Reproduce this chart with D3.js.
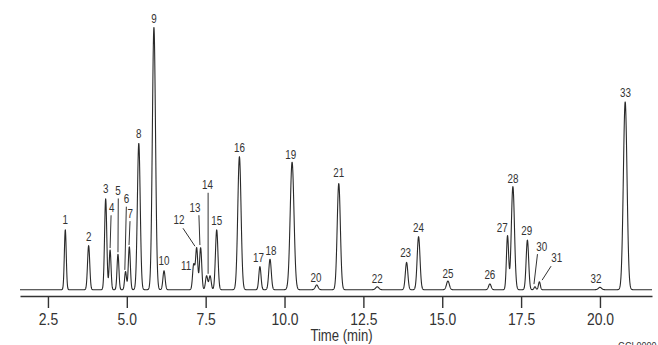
<!DOCTYPE html>
<html>
<head>
<meta charset="utf-8">
<script src="https://cdn.jsdelivr.net/npm/d3@7"></script>
<style>
  html, body { margin: 0; padding: 0; background: #fff; }
  svg { display: block; }
  .lbl { font-family: "Liberation Sans", Arial, sans-serif; fill: #333; }
</style>
</head>
<body>
<svg id="chart" width="658" height="345"></svg>
<script>
// ---- data ----
const peakLabels   = ["1","2","3","4","5","6","7","8","9","10","11","12","13","14","","15","16","17","18","19","20","21","22","23","24","25","26","27","28","29","30","31","32","33"];
const retentionMin = [3.05,3.79,4.33,4.47,4.72,4.96,5.08,5.38,5.86,6.18,7.12,7.215,7.34,7.53,7.64,7.85,8.57,9.22,9.54,10.24,11.02,11.72,12.94,13.87,14.25,15.18,16.51,17.07,17.24,17.70,17.94,18.08,20.00,20.80];
const peakHeight   = [22.8,16.8,34.6,15.1,13.5,6.9,16.4,55.8,100,7.2,9.5,15.8,16.0,5.3,5.3,22.8,50.7,8.8,11.6,48.6,1.8,40.5,1.1,10.4,20.2,3.3,2.2,20.5,39.3,18.9,1.1,3.0,0.9,71.6];
const peakWidth    = [0.030,0.035,0.035,0.030,0.030,0.030,0.032,0.045,0.050,0.035,0.035,0.035,0.035,0.035,0.035,0.040,0.052,0.035,0.040,0.060,0.045,0.050,0.050,0.040,0.045,0.045,0.040,0.035,0.050,0.040,0.030,0.030,0.050,0.058];
const tickValues   = [2.5,5.0,7.5,10.0,12.5,15.0,17.5,20.0];
const xTitle = "Time (min)";
const figureId = "GCL0000";

// ---- label layout (pixel offsets from apex) ----
const labelOffsets = {
  "1":[0,-6], "2":[0,-5], "3":[0,-5.7], "8":[0,-5], "9":[0,-4.3], "10":[0,-5.7],
  "15":[0,-5], "16":[0,-5], "17":[-1.5,-5], "18":[1,-4.3], "19":[-1.3,-3], "20":[-0.7,-3.3],
  "21":[0,-6.6], "22":[0,-3.4], "23":[-1,-5.6], "24":[0,-5], "25":[0,-3.3], "26":[0,-5],
  "27":[-5.4,-4.3], "28":[0,-3.4], "29":[-0.6,-5], "32":[-4,-4], "33":[0.4,-4.4],
  "11":[-7.6,5.2],
  // with leader lines: [dx, dy, startDx, startDy, endDx, endDy]
  "4":[1.7,-38.3, -0.7,3.5, 0,-2],
  "5":[0,-59.3, 0.3,3.5, 0,-2],
  "6":[1,-68.4, -0.2,3.5, -0.7,-1.7],
  "7":[1,-29, -0.3,3.5, -0.3,-1.7],
  "12":[-17.7,-24.7, 4,4.7, -1.7,-2],
  "13":[-5.7,-36, 4,3.5, -0.7,-2.7],
  "14":[0.8,-86.7, 0.7,3.7, 1.5,-2],
  "30":[6.7,-36, -4.2,3.3, -1,-2.7],
  "31":[17.4,-20, -5.7,4.3, 2.7,-1.7]
};
const narrow = 0.82; // horizontal condensing of the text face

// ---- scales ----
const svg = d3.select("#chart");
const x = d3.scaleLinear().domain([1.614, 21.65]).range([20, 652]);
const y = d3.scaleLinear().domain([0, 100]).range([289.7, 27.3]);

function addText(parent, px, py, str, size, anchor) {
  return parent.append("g")
    .attr("transform", `translate(${px},${py}) scale(${narrow},1)`)
    .append("text")
    .attr("class", "lbl")
    .attr("text-anchor", anchor || "middle")
    .style("font-size", size + "px")
    .text(str);
}

// trace: sum of peaks
const step = 0.004;
const times = d3.range(x.domain()[0], x.domain()[1] + step / 2, step);
const trace = times.map(t => {
  let s = 0;
  for (let i = 0; i < retentionMin.length; i++) {
    const z = (t - retentionMin[i]) / peakWidth[i];
    if (Math.abs(z) < 8) s += peakHeight[i] * Math.exp(-0.5 * z * z);
  }
  return [t, s];
});

svg.append("path")
  .datum(trace)
  .attr("fill", "none")
  .attr("stroke", "#2a2a2a")
  .attr("stroke-width", 1.1)
  .attr("stroke-linejoin", "round")
  .attr("d", d3.line().x(d => x(d[0])).y(d => y(d[1])));

// axis
const axis = d3.axisBottom(x)
  .tickValues(tickValues)
  .tickFormat(d3.format(".1f"))
  .tickSizeInner(12)
  .tickSizeOuter(0)
  .tickPadding(5);
const gAxis = svg.append("g").attr("transform", "translate(0,296)").call(axis);
gAxis.select(".domain").attr("stroke", "#333").attr("stroke-width", 1.4);
gAxis.selectAll(".tick line").attr("stroke", "#333").attr("stroke-width", 1.4);
gAxis.selectAll(".tick text")
  .attr("class", "lbl")
  .attr("fill", "#333")
  .attr("transform", `scale(${narrow},1)`)
  .style("font-size", "17px");

addText(svg, 341.5, 341, xTitle, 16);
addText(svg, 618, 350, figureId, 11, "start");

// peak labels
const gLab = svg.append("g");
peakLabels.forEach((lab, i) => {
  if (!lab) return;
  const ax = x(retentionMin[i]), ay = y(peakHeight[i]);
  const o = labelOffsets[lab] || [0, -5];
  const lx = ax + o[0], ly = ay + o[1];
  addText(gLab, lx, ly, lab, 12);
  if (o.length > 2) {
    gLab.append("line")
      .attr("x1", lx + o[2]).attr("y1", ly + o[3])
      .attr("x2", ax + o[4]).attr("y2", ay + o[5])
      .attr("stroke", "#333").attr("stroke-width", 1);
  }
});
</script>
</body>
</html>
